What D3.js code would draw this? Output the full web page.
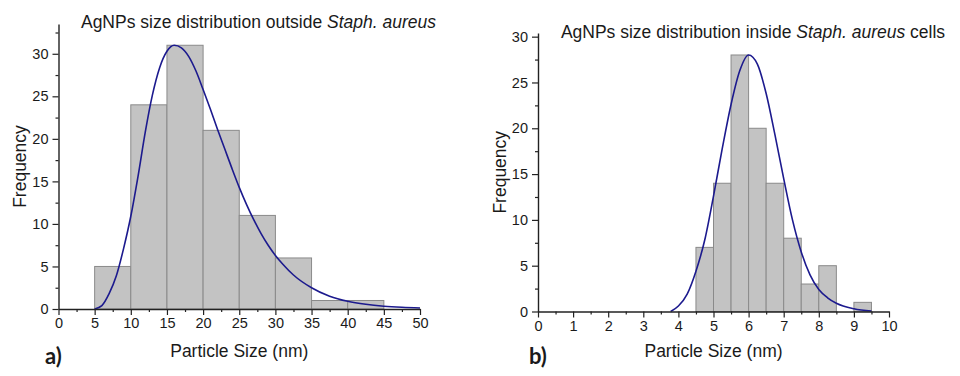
<!DOCTYPE html>
<html><head><meta charset="utf-8">
<script src="https://cdn.jsdelivr.net/npm/d3@7"></script>
<style>
body{margin:0;background:#fff}
text{font-family:"Liberation Sans",Arial,sans-serif;fill:#1a1a1a}
</style>
</head><body>
<svg id="c" width="960" height="376"></svg>
<script>
// ---- Panel a) : outside Staph. aureus ----
const binStartA = [5, 10, 15, 20, 25, 30, 35, 40];
const countsA   = [5, 24, 31, 21, 11, 6, 1, 1];
const binWidthA = 5;
const fitXA = [5, 6, 7, 8, 9, 10, 11, 12, 13, 14, 15, 16, 17, 18, 19, 20, 21, 22, 23, 24, 25, 26, 27, 28, 29, 30, 31, 32.5, 35, 37.5, 40, 42.5, 45, 47.5, 50];
const fitYA = [0, 0.4, 1.8, 3.9, 7.1, 10.9, 15.6, 20.8, 25.2, 28.4, 30.3, 31.0, 30.7, 29.7, 28.0, 25.8, 23.5, 21.1, 18.8, 16.5, 14.3, 12.3, 10.5, 8.9, 7.5, 6.3, 5.3, 4.0, 2.5, 1.5, 0.9, 0.55, 0.33, 0.2, 0.12];
const xTicksA = [0, 5, 10, 15, 20, 25, 30, 35, 40, 45, 50];
const xMinorA = [2.5, 7.5, 12.5, 17.5, 22.5, 27.5, 32.5, 37.5, 42.5, 47.5];
const yTicksA = [0, 5, 10, 15, 20, 25, 30];
const yMinorA = [2.5, 7.5, 12.5, 17.5, 22.5, 27.5, 32.5];

// ---- Panel b) : inside Staph. aureus cells ----
const binStartB = [4.5, 5, 5.5, 6, 6.5, 7, 7.5, 8, 8.5, 9];
const countsB   = [7, 14, 28, 20, 14, 8, 3, 5, 0, 1];
const binWidthB = 0.5;
const fitXB = [3.78, 4.0, 4.25, 4.5, 4.75, 5.0, 5.25, 5.5, 5.75, 6.0, 6.25, 6.5, 6.75, 7.0, 7.25, 7.5, 7.75, 8.0, 8.25, 8.5, 9.0, 9.5];
const fitYB = [0, 0.6, 1.9, 4.4, 7.8, 12.6, 17.8, 22.6, 26.3, 28.0, 27.0, 23.8, 19.3, 14.5, 10.0, 6.5, 4.0, 2.4, 1.5, 0.9, 0.3, 0.05];
const xTicksB = [0, 1, 2, 3, 4, 5, 6, 7, 8, 9, 10];
const xMinorB = [0.5, 1.5, 2.5, 3.5, 4.5, 5.5, 6.5, 7.5, 8.5, 9.5];
const yTicksB = [0, 5, 10, 15, 20, 25, 30];
const yMinorB = [2.5, 7.5, 12.5, 17.5, 22.5, 27.5];

const svg = d3.select("#c");

function panel(cfg) {
  const x = d3.scaleLinear().domain(cfg.xDomain).range([cfg.left, cfg.right]);
  const y = d3.scaleLinear().domain(cfg.yDomain).range([cfg.bottom, cfg.top]);
  const g = svg.append("g");

  // bars
  g.append("g").selectAll("rect")
    .data(cfg.starts.map((s, i) => ({s, c: cfg.counts[i]})).filter(d => d.c > 0))
    .join("rect")
    .attr("x", d => x(d.s))
    .attr("y", d => y(d.c))
    .attr("width", d => x(d.s + cfg.bw) - x(d.s))
    .attr("height", d => y(0) - y(d.c))
    .attr("fill", "#c3c3c3")
    .attr("stroke", "#8a8a8a")
    .attr("stroke-width", 1);

  // fit curve
  const pts = cfg.fitX.map((v, i) => [v, cfg.fitY[i]]);
  g.append("path")
    .datum(pts)
    .attr("d", d3.line().x(d => x(d[0])).y(d => y(d[1])).curve(d3.curveMonotoneX))
    .attr("fill", "none")
    .attr("stroke", "#1c1a8e")
    .attr("stroke-width", 1.6);

  // axes
  g.append("g").attr("transform", `translate(0,${y(0)})`)
    .call(d3.axisBottom(x).tickValues(cfg.xTicks).tickFormat(d3.format("d")).tickSize(6).tickSizeOuter(0).tickPadding(3));
  g.append("g").attr("transform", `translate(0,${y(0)})`)
    .call(d3.axisBottom(x).tickValues(cfg.xMinor).tickFormat("").tickSize(3).tickSizeOuter(0))
    .select(".domain").remove();
  g.append("g").attr("transform", `translate(${x(0)},0)`)
    .call(d3.axisLeft(y).tickValues(cfg.yTicks).tickFormat(d3.format("d")).tickSize(6).tickSizeOuter(0).tickPadding(4));
  g.append("g").attr("transform", `translate(${x(0)},0)`)
    .call(d3.axisLeft(y).tickValues(cfg.yMinor).tickFormat("").tickSize(3).tickSizeOuter(0))
    .select(".domain").remove();
  g.selectAll(".domain").attr("stroke", "#222").attr("stroke-width", 1.4);
  g.selectAll(".tick line").attr("stroke", "#222").attr("stroke-width", 1.2);
  g.selectAll(".tick text").attr("font-size", 14.5).attr("font-family", '"Liberation Sans",Arial,sans-serif').attr("fill", "#1a1a1a");

  // axis titles
  g.append("text")
    .attr("x", (cfg.left + cfg.right) / 2).attr("y", cfg.xTitleY)
    .attr("text-anchor", "middle").attr("font-size", 17.5)
    .text("Particle Size (nm)");
  g.append("text")
    .attr("transform", `translate(${cfg.yTitleX},${(cfg.bottom + cfg.top) / 2}) rotate(-90)`)
    .attr("text-anchor", "middle").attr("font-size", 17.5)
    .text("Frequency");

  // chart title
  const t = g.append("text")
    .attr("x", cfg.titleX).attr("y", cfg.titleY)
    .attr("text-anchor", "middle").attr("font-size", 17.5);
  t.append("tspan").text(cfg.titlePre);
  t.append("tspan").attr("font-style", "italic").text("Staph. aureus");
  if (cfg.titlePost) t.append("tspan").text(cfg.titlePost);

  // panel letter
  g.append("text")
    .attr("x", cfg.letterX).attr("y", cfg.letterY)
    .attr("font-size", 22).attr("font-weight", "bold")
    .style("font-family", "Lato, 'Open Sans', sans-serif")
    .text(cfg.letter);
}

panel({
  xDomain: [0, 50], yDomain: [0, 33.5],
  left: 58.5, right: 420, bottom: 309, top: 24,
  starts: binStartA, counts: countsA, bw: binWidthA,
  fitX: fitXA, fitY: fitYA,
  xTicks: xTicksA, xMinor: xMinorA, yTicks: yTicksA, yMinor: yMinorA,
  xTitleY: 357, yTitleX: 26,
  titleX: 258.5, titleY: 28, titlePre: "AgNPs size distribution outside ", titlePost: "",
  letter: "a)", letterX: 45, letterY: 364
});

panel({
  xDomain: [0, 10], yDomain: [0, 30.4],
  left: 538, right: 889, bottom: 311.5, top: 33,
  starts: binStartB, counts: countsB, bw: binWidthB,
  fitX: fitXB, fitY: fitYB,
  xTicks: xTicksB, xMinor: xMinorB, yTicks: yTicksB, yMinor: yMinorB,
  xTitleY: 357, yTitleX: 506,
  titleX: 753, titleY: 38, titlePre: "AgNPs size distribution inside ", titlePost: " cells",
  letter: "b)", letterX: 529, letterY: 364
});
</script>
</body></html>
